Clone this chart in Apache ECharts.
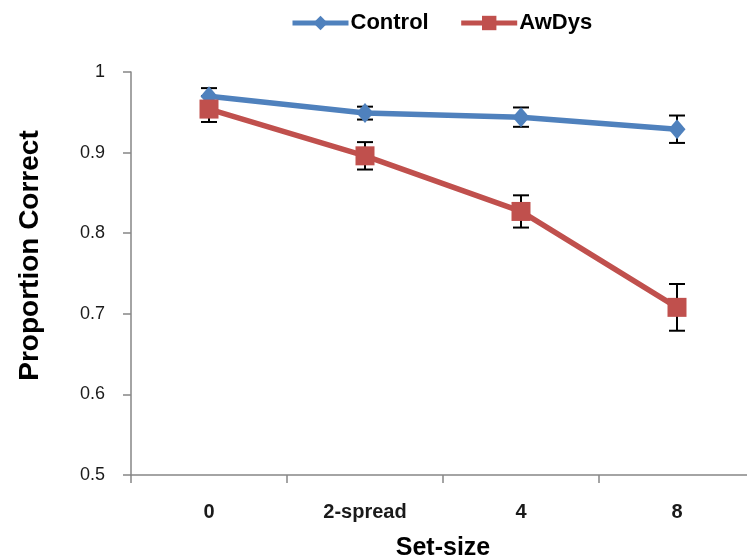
<!DOCTYPE html>
<html>
<head>
<meta charset="utf-8">
<script src="https://cdn.jsdelivr.net/npm/echarts@6/dist/echarts.min.js"></script>
<style>
  html, body { margin: 0; padding: 0; background: #fff; }
  #chart { width: 747px; height: 560px; }
</style>
</head>
<body>
<div id="chart"></div>
<script>
// Set-size conditions on the x axis
const categories = ['0', '2-spread', '4', '8'];

// Mean proportion correct per group
const controlMean = [0.970, 0.949, 0.944, 0.929];
const awdysMean   = [0.954, 0.896, 0.827, 0.708];

// Standard error per group
const controlErr = [0.010, 0.008, 0.012, 0.017];
const awdysErr   = [0.016, 0.017, 0.020, 0.029];

const blue = '#4F81BD';
const red  = '#C0504D';
const font = 'Arial, "Liberation Sans", sans-serif';

function errorSeries(name, mean, err) {
  return {
    type: 'custom',
    name: name + ' error',
    z: 1,
    silent: true,
    data: mean.map((m, i) => [i, m - err[i], m + err[i]]),
    renderItem: function (params, api) {
      const lo = api.coord([api.value(0), api.value(1)]);
      const hi = api.coord([api.value(0), api.value(2)]);
      const half = 8;
      const style = { stroke: '#000', lineWidth: 2 };
      return {
        type: 'group',
        children: [
          { type: 'line', shape: { x1: lo[0], y1: lo[1], x2: hi[0], y2: hi[1] }, style },
          { type: 'line', shape: { x1: hi[0] - half, y1: hi[1], x2: hi[0] + half, y2: hi[1] }, style },
          { type: 'line', shape: { x1: lo[0] - half, y1: lo[1], x2: lo[0] + half, y2: lo[1] }, style }
        ]
      };
    }
  };
}

const chart = echarts.init(document.getElementById('chart'), null, { renderer: 'canvas' });
chart.setOption({
  animation: false,
  backgroundColor: '#fff',
  // the plot area runs slightly past the right edge of the canvas
  grid: { left: 131, top: 72, right: -8, bottom: 85, containLabel: false, outerBoundsMode: 'none' },
  legend: {
    top: 7,
    left: 285,
    itemWidth: 56,
    itemHeight: 18,
    itemGap: 30,
    data: ['Control', 'AwDys'],
    lineStyle: { width: 5 },
    textStyle: { fontFamily: font, fontSize: 22, fontWeight: 'bold', color: '#000', padding: [0, 0, 0, -3] }
  },
  xAxis: {
    type: 'category',
    data: categories,
    boundaryGap: true,
    name: 'Set-size',
    nameLocation: 'middle',
    nameGap: 61,
    nameTextStyle: { fontFamily: font, fontSize: 25, fontWeight: 'bold', color: '#000' },
    axisLine: { lineStyle: { color: '#868686', width: 1.5 } },
    axisTick: { show: true, length: 8, alignWithLabel: false, lineStyle: { color: '#868686', width: 1.5 } },
    axisLabel: { fontFamily: font, fontSize: 20, fontWeight: 'bold', color: '#1a1a1a', margin: 27 }
  },
  yAxis: {
    type: 'value',
    min: 0.5,
    max: 1,
    interval: 0.1,
    name: 'Proportion Correct',
    nameLocation: 'middle',
    nameGap: 87,
    nameTextStyle: {
      fontFamily: font, fontSize: 28, fontWeight: 'bold', color: '#000',
      padding: [0, 0, 0, 36]
    },
    splitLine: { show: false },
    axisLine: { show: true, lineStyle: { color: '#868686', width: 1.5 } },
    axisTick: { show: true, length: 8, lineStyle: { color: '#868686', width: 1.5 } },
    axisLabel: {
      fontFamily: font, fontSize: 18, color: '#1a1a1a', margin: 26,
      formatter: v => (Math.abs(v - 1) < 1e-9 ? '1' : v.toFixed(1))
    }
  },
  series: [
    errorSeries('Control', controlMean, controlErr),
    errorSeries('AwDys', awdysMean, awdysErr),
    {
      name: 'Control',
      type: 'line',
      z: 3,
      data: controlMean,
      symbol: 'diamond',
      symbolSize: [17, 20],
      lineStyle: { color: blue, width: 5.5 },
      itemStyle: { color: blue },
      emphasis: { disabled: true }
    },
    {
      name: 'AwDys',
      type: 'line',
      z: 4,
      data: awdysMean,
      symbol: 'rect',
      symbolSize: [19, 19],
      lineStyle: { color: red, width: 5.5 },
      itemStyle: { color: red },
      emphasis: { disabled: true }
    }
  ]
});
</script>
</body>
</html>
